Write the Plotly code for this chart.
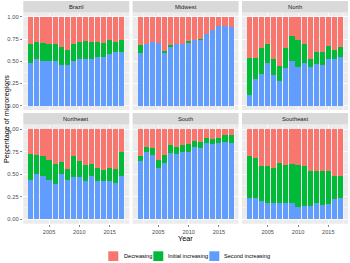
import plotly.graph_objects as go

years = list(range(2002, 2018))
regions = ["Brazil", "Midwest", "North", "Northeast", "South", "Southeast"]

second_increasing = {
    "Brazil":    [0.48, 0.52, 0.50, 0.50, 0.50, 0.46, 0.46, 0.50, 0.52, 0.53, 0.52, 0.55, 0.55, 0.58, 0.60, 0.61],
    "Midwest":   [0.59, 0.70, 0.72, 0.71, 0.59, 0.66, 0.70, 0.70, 0.71, 0.74, 0.74, 0.81, 0.85, 0.90, 0.90, 0.89],
    "North":     [0.12, 0.30, 0.36, 0.48, 0.35, 0.28, 0.42, 0.50, 0.44, 0.48, 0.44, 0.47, 0.46, 0.53, 0.52, 0.55],
    "Northeast": [0.44, 0.50, 0.48, 0.44, 0.39, 0.50, 0.44, 0.47, 0.47, 0.42, 0.48, 0.42, 0.42, 0.42, 0.40, 0.48],
    "South":     [0.65, 0.75, 0.71, 0.57, 0.62, 0.73, 0.72, 0.74, 0.75, 0.80, 0.79, 0.84, 0.83, 0.85, 0.86, 0.84],
    "Southeast": [0.24, 0.24, 0.20, 0.18, 0.18, 0.18, 0.18, 0.18, 0.13, 0.15, 0.15, 0.18, 0.16, 0.17, 0.22, 0.23],
}
initial_increasing = {
    "Brazil":    [0.22, 0.20, 0.21, 0.20, 0.20, 0.20, 0.17, 0.19, 0.20, 0.20, 0.20, 0.17, 0.16, 0.16, 0.12, 0.13],
    "Midwest":   [0.09, 0.00, 0.00, 0.00, 0.03, 0.02, 0.00, 0.00, 0.02, 0.00, 0.015, 0.00, 0.00, 0.00, 0.00, 0.00],
    "North":     [0.42, 0.24, 0.29, 0.22, 0.17, 0.17, 0.23, 0.28, 0.30, 0.22, 0.08, 0.13, 0.14, 0.14, 0.11, 0.11],
    "Northeast": [0.28, 0.21, 0.22, 0.22, 0.22, 0.13, 0.12, 0.23, 0.17, 0.18, 0.13, 0.15, 0.12, 0.15, 0.16, 0.26],
    "South":     [0.05, 0.05, 0.08, 0.09, 0.09, 0.09, 0.08, 0.08, 0.08, 0.07, 0.07, 0.06, 0.06, 0.05, 0.07, 0.09],
    "Southeast": [0.46, 0.44, 0.39, 0.41, 0.39, 0.44, 0.42, 0.43, 0.47, 0.44, 0.38, 0.35, 0.37, 0.36, 0.26, 0.25],
}
decreasing = {
    "Brazil":    [0.30, 0.28, 0.29, 0.30, 0.30, 0.34, 0.37, 0.31, 0.28, 0.27, 0.28, 0.28, 0.29, 0.26, 0.28, 0.26],
    "Midwest":   [0.32, 0.30, 0.28, 0.29, 0.38, 0.32, 0.30, 0.30, 0.27, 0.26, 0.245, 0.19, 0.15, 0.10, 0.10, 0.11],
    "North":     [0.46, 0.46, 0.35, 0.30, 0.48, 0.55, 0.35, 0.22, 0.26, 0.30, 0.48, 0.40, 0.40, 0.33, 0.37, 0.34],
    "Northeast": [0.28, 0.29, 0.30, 0.34, 0.39, 0.37, 0.44, 0.30, 0.36, 0.40, 0.39, 0.43, 0.46, 0.43, 0.44, 0.26],
    "South":     [0.30, 0.20, 0.21, 0.34, 0.29, 0.18, 0.20, 0.18, 0.17, 0.13, 0.14, 0.10, 0.11, 0.10, 0.07, 0.07],
    "Southeast": [0.30, 0.32, 0.41, 0.41, 0.43, 0.38, 0.40, 0.39, 0.40, 0.41, 0.47, 0.47, 0.47, 0.47, 0.52, 0.52],
}

y_ticks = [0, 0.25, 0.5, 0.75, 1.0]
y_tick_labels = ["0.00", "0.25", "0.50", "0.75", "1.00"]
x_ticks = [2005, 2010, 2015]

series = [
    ("Second increasing", second_increasing, "#619CFF"),
    ("Initial increasing", initial_increasing, "#00BA38"),
    ("Decreasing", decreasing, "#F8766D"),
]

W, H = 350, 263
col_px = [(23.3, 129.3), (132.6, 238.6), (242.0, 348.0)]
row_px = [(12.5, 110.0), (124.5, 223.7)]  # panel top/bottom in px
strip_px = [(1.0, 12.5), (113.0, 124.5)]

def px_x(v):
    return v / W

def px_y(v):
    return 1 - v / H

fig = go.Figure()
layout_axes = {}
shapes = []
annotations = []

for i, reg in enumerate(regions):
    r, c = divmod(i, 3)
    n = i + 1
    xa = "x" if n == 1 else f"x{n}"
    ya = "y" if n == 1 else f"y{n}"
    for name, data, color in series:
        fig.add_trace(go.Bar(
            x=years, y=data[reg], name=name, marker=dict(color=color, line=dict(width=0)),
            width=0.84, xaxis=xa, yaxis=ya, legendgroup=name, showlegend=False,
        ))
    x0, x1 = col_px[c]
    top, bot = row_px[r]
    xkey = "xaxis" if n == 1 else f"xaxis{n}"
    ykey = "yaxis" if n == 1 else f"yaxis{n}"
    layout_axes[xkey] = dict(
        domain=[px_x(x0), px_x(x1)], anchor=ya, range=[2000.755, 2018.245],
        tickvals=x_ticks, ticktext=[str(t) for t in x_ticks],
        showticklabels=(r == 1), ticks="outside" if r == 1 else "", ticklen=2.5, tickwidth=0.6,
        tickcolor="#333333", tickfont=dict(size=5.6, color="#4D4D4D"),
        showgrid=True, gridcolor="white", gridwidth=0.8, zeroline=False, showline=False,
        minor=dict(tickvals=[2002.5, 2007.5, 2012.5, 2017.5], showgrid=True, gridcolor="white", gridwidth=0.4),
        fixedrange=True,
    )
    layout_axes[ykey] = dict(
        domain=[px_y(bot), px_y(top)], anchor=xa, range=[-0.05, 1.05],
        tickvals=y_ticks, ticktext=y_tick_labels,
        showticklabels=(c == 0), ticks="outside" if c == 0 else "", ticklen=2.5, tickwidth=0.6,
        tickcolor="#333333", tickfont=dict(size=5.8, color="#4D4D4D"),
        showgrid=True, gridcolor="white", gridwidth=0.8, zeroline=False, showline=False,
        minor=dict(tickvals=[0.125, 0.375, 0.625, 0.875], showgrid=True, gridcolor="white", gridwidth=0.4),
        fixedrange=True,
    )
    # panel background
    shapes.append(dict(type="rect", xref="paper", yref="paper", layer="below",
                       x0=px_x(x0), x1=px_x(x1), y0=px_y(bot), y1=px_y(top),
                       fillcolor="#EBEBEB", line=dict(width=0)))
    # strip
    s0, s1 = strip_px[r]
    shapes.append(dict(type="rect", xref="paper", yref="paper",
                       x0=px_x(x0), x1=px_x(x1), y0=px_y(s1), y1=px_y(s0),
                       fillcolor="#D9D9D9", line=dict(width=0)))
    annotations.append(dict(text=reg, xref="paper", yref="paper", x=px_x((x0 + x1) / 2),
                            y=px_y((s0 + s1) / 2), showarrow=False, xanchor="center", yanchor="middle",
                            font=dict(size=5.8, color="#1A1A1A")))

annotations.append(dict(text="Percentage of microregions", xref="paper", yref="paper",
                        x=px_x(6), y=px_y(119), textangle=-90, showarrow=False,
                        xanchor="center", yanchor="middle", font=dict(size=7.2, color="black")))
annotations.append(dict(text="Year", xref="paper", yref="paper",
                        x=px_x(185.7), y=px_y(238.5), showarrow=False,
                        xanchor="center", yanchor="middle", font=dict(size=7.2, color="black")))

# legend (manual, ggplot-style keys)
legend_items = [("Decreasing", "#F8766D", 108.3, 121.5),
                ("Initial increasing", "#00BA38", 153.3, 165.7),
                ("Second increasing", "#619CFF", 209.3, 221.7)]
for label, color, kx, tx in legend_items:
    shapes.append(dict(type="rect", xref="paper", yref="paper",
                       x0=px_x(kx), x1=px_x(kx + 10), y0=px_y(261), y1=px_y(251.3),
                       fillcolor=color, line=dict(width=0)))
    annotations.append(dict(text=label, xref="paper", yref="paper", x=px_x(tx), y=px_y(256.2),
                            showarrow=False, xanchor="left", yanchor="middle",
                            font=dict(size=5.6, color="black")))

fig.update_layout(
    width=W, height=H, margin=dict(l=0, r=0, t=0, b=0),
    paper_bgcolor="white", plot_bgcolor="rgba(0,0,0,0)",
    barmode="stack", bargap=0, showlegend=False, hovermode=False,
    font=dict(family="Liberation Sans, Arial, sans-serif"),
    shapes=shapes, annotations=annotations,
    **layout_axes,
)

fig.write_html(
    "out.html",
    config={"displayModeBar": False, "staticPlot": True},
    post_script="document.documentElement.style.margin='0';document.body.style.margin='0';"
                "document.body.style.padding='0';document.body.style.overflow='hidden';",
)
